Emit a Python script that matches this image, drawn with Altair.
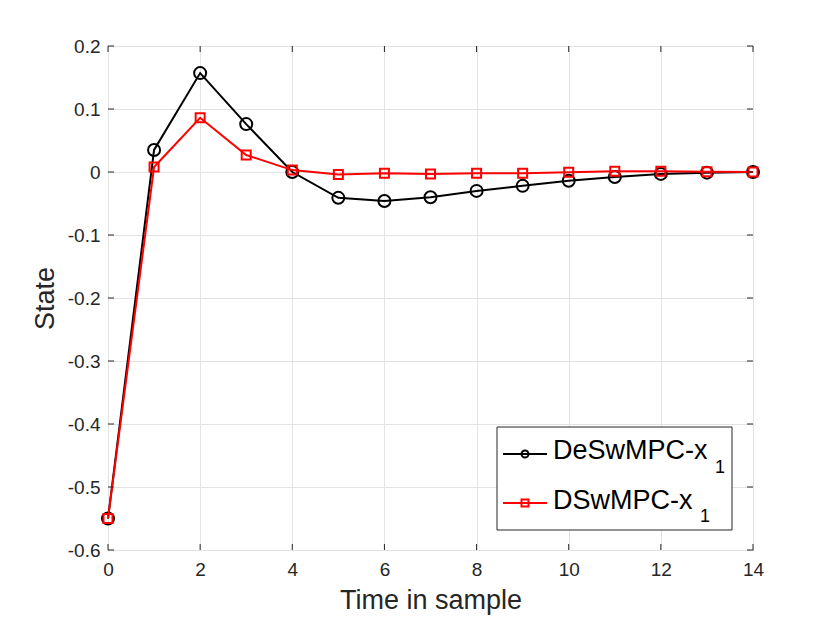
import altair as alt
import pandas as pd

time = list(range(15))
deswmpc = [-0.55, 0.035, 0.157, 0.076, 0.0, -0.041, -0.046, -0.040, -0.030, -0.022, -0.014, -0.008, -0.003, -0.001, 0.0]
dswmpc = [-0.55, 0.008, 0.086, 0.027, 0.003, -0.004, -0.002, -0.003, -0.002, -0.002, -0.0005, 0.001, 0.001, 0.0005, 0.0]
xticks = [0, 2, 4, 6, 8, 10, 12, 14]
yticks = [-0.6, -0.5, -0.4, -0.3, -0.2, -0.1, 0.0, 0.1, 0.2]
series_names = ["DeSwMPC-x", "DSwMPC-x"]

W, H = 645, 504
FONT = "Liberation Sans"
AX = "#262626"

df = pd.DataFrame({"t": time, "a": deswmpc, "b": dswmpc})
xt = pd.DataFrame({"v": xticks})
yt = pd.DataFrame({"v": yticks})

xs = alt.Scale(domain=[0, 14], nice=False, zero=False)
ys = alt.Scale(domain=[-0.6, 0.2], nice=False, zero=False)

ylab = "datum.value < 0 ? '-' + format(-datum.value, '.1~f') : format(datum.value, '.1~f')"

base = alt.Chart(df)

axis_common = dict(tickSize=0, domain=False, labelFont=FONT, labelFontSize=19, labelColor=AX,
                   titleFont=FONT, titleFontSize=27, titleColor=AX, titleFontWeight="normal",
                   grid=True, gridColor="#e3e3e3", gridWidth=1)

black_line = base.mark_line(color="black", strokeWidth=2).encode(
    x=alt.X("t:Q", scale=xs, axis=alt.Axis(values=xticks, title="Time in sample", labelPadding=10,
                                          labelFlush=False, titleY=58, titleBaseline="alphabetic",
                                          **axis_common)),
    y=alt.Y("a:Q", scale=ys, axis=alt.Axis(values=yticks, title="State", labelPadding=8,
                                          labelExpr=ylab, titleX=-55, titleY=H / 2,
                                          titleBaseline="alphabetic", **axis_common)),
)
black_pts = base.mark_point(shape="circle", color="black", filled=False, size=144, strokeWidth=2,
                            opacity=1).encode(x=alt.X("t:Q", scale=xs), y=alt.Y("a:Q", scale=ys))
red_line = base.mark_line(color="#ff0000", strokeWidth=2).encode(
    x=alt.X("t:Q", scale=xs), y=alt.Y("b:Q", scale=ys))
red_pts = base.mark_point(shape="square", color="#ff0000", filled=False, size=81, strokeWidth=2,
                          opacity=1).encode(x=alt.X("t:Q", scale=xs), y=alt.Y("b:Q", scale=ys))

tk = dict(color=AX, strokeWidth=1)
tb = alt.Chart(xt).mark_rule(**tk).encode(x=alt.X("v:Q", scale=xs), y=alt.value(H), y2=alt.value(H - 6))
tt = alt.Chart(xt).mark_rule(**tk).encode(x=alt.X("v:Q", scale=xs), y=alt.value(0), y2=alt.value(6))
tl = alt.Chart(yt).mark_rule(**tk).encode(y=alt.Y("v:Q", scale=ys), x=alt.value(0), x2=alt.value(6))
tr = alt.Chart(yt).mark_rule(**tk).encode(y=alt.Y("v:Q", scale=ys), x=alt.value(W), x2=alt.value(W - 6))

# legend
lg = alt.Chart(pd.DataFrame({"k": [0]}))
box = lg.mark_rect(fill="white", stroke=AX, strokeWidth=1).encode(
    x=alt.value(389), x2=alt.value(624), y=alt.value(381), y2=alt.value(484))
r1 = 408
r2 = 457
l1 = lg.mark_rule(color="black", strokeWidth=2).encode(x=alt.value(395), x2=alt.value(439), y=alt.value(r1))
p1 = lg.mark_point(shape="circle", color="black", filled=False, size=49, strokeWidth=2, opacity=1).encode(
    x=alt.value(417), y=alt.value(r1))
l2 = lg.mark_rule(color="#ff0000", strokeWidth=2).encode(x=alt.value(395), x2=alt.value(439), y=alt.value(r2))
p2 = lg.mark_point(shape="square", color="#ff0000", filled=False, size=49, strokeWidth=2, opacity=1).encode(
    x=alt.value(417), y=alt.value(r2))
txt = dict(font=FONT, fontSize=27, color="black", align="left", baseline="alphabetic")
t1 = lg.mark_text(**txt).encode(x=alt.value(445), y=alt.value(r1 + 5), text=alt.value(series_names[0]))
t2 = lg.mark_text(**txt).encode(x=alt.value(445), y=alt.value(r2 + 6), text=alt.value(series_names[1]))
sub = dict(font=FONT, fontSize=18, color="black", align="left", baseline="alphabetic")
s1 = lg.mark_text(**sub).encode(x=alt.value(607), y=alt.value(r1 + 19), text=alt.value("1"))
s2 = lg.mark_text(**sub).encode(x=alt.value(592), y=alt.value(r2 + 19), text=alt.value("1"))

chart = alt.layer(black_line, black_pts, red_line, red_pts, tb, tt, tl, tr,
                  box, l1, p1, l2, p2, t1, t2, s1, s2).properties(
    width=W, height=H,
    autosize=alt.AutoSizeParams(type="none"),
    padding={"left": 100, "top": 38, "right": 69, "bottom": 65},
    background="white",
).configure_view(stroke=AX, strokeWidth=1)

chart.save("out.html", embed_options={"renderer": "svg", "actions": False})
